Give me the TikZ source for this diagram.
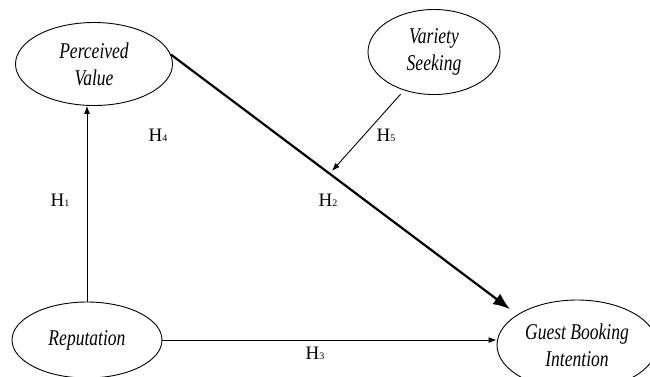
\documentclass[tikz,border=0pt]{standalone}
\usepackage{fontspec}
\setmainfont{Liberation Serif}[FakeStretch=0.78]
\newfontfamily\hfont{Liberation Serif}
\usetikzlibrary{shapes.geometric,arrows.meta}
\begin{document}
\begin{tikzpicture}[x=1pt,y=-1pt,
  latent/.style={draw, line width=0.9pt, ellipse, inner sep=0pt, align=center,
    font=\fontsize{22.5}{27}\selectfont\itshape},
  thinarrow/.style={draw, line width=0.9pt, -{Latex[length=8pt,width=6pt]}},
  thickarrow/.style={draw, line width=2.2pt, -{Latex[length=17pt,width=13pt]}},
  hlabel/.style={inner sep=0pt, font=\hfont\fontsize{19}{22}\selectfont}]
\useasboundingbox (0,0) rectangle (650,376);
\node[latent, minimum width=157pt, minimum height=83pt] (pv) at (94,64) {Perceived\\Value};
\node[latent, minimum width=132pt, minimum height=85pt] (vs) at (434,52) {Variety\\Seeking};
\node[latent, minimum width=150pt, minimum height=76pt] (rep) at (87,340) {Reputation};
\node[latent, minimum width=160pt, minimum height=90pt] (gbi) at (577,345) {Guest Booking\\Intention};
% connectors
\draw[thinarrow] (rep.north) -- (rep.north |- pv.south);
\draw[thickarrow, shorten >=9pt] (pv.7) -- (gbi.153);
\coordinate (h5end) at (332,171);
\draw[thinarrow, shorten <=5pt] (vs.232) -- (h5end);
\draw[thinarrow] (rep.east) -- (rep.east -| gbi.west);
% labels
\node[hlabel] (h1) at (60,200) {H{\fontsize{10}{12}\selectfont 1}};
\node[hlabel] (h2) at (328,200) {H{\fontsize{10}{12}\selectfont 2}};
\node[hlabel] (h3) at (315,353) {H{\fontsize{10}{12}\selectfont 3}};
\node[hlabel] (h4) at (158,135) {H{\fontsize{10}{12}\selectfont 4}};
\node[hlabel] (h5) at (386,135) {H{\fontsize{10}{12}\selectfont 5}};
\end{tikzpicture}
\end{document}
